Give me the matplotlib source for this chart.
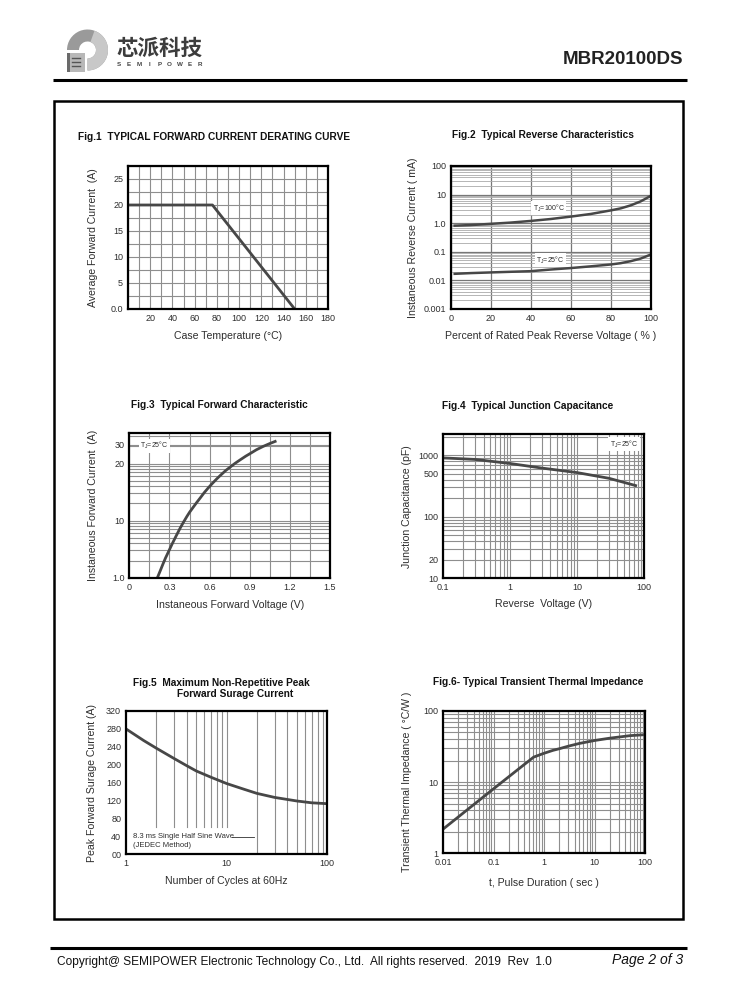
import numpy as np
import matplotlib; matplotlib.use("Agg")
import matplotlib.pyplot as plt
from matplotlib.patches import Rectangle, Wedge
from matplotlib.ticker import MultipleLocator, LogLocator, NullFormatter

plt.rcParams['font.family'] = ['Liberation Sans', 'DejaVu Sans']

W, H = 738, 1000
C_CURVE = "#474747"; C_GRID = "#8e8e8e"; C_TXT = "#2e2e2e"

# Fig.1 derating curve
case_temp = [0, 76, 150]
avg_current = [20, 20, 0]

# Fig.2 reverse characteristics
pct_vr = [2, 10, 20, 30, 40, 50, 60, 70, 80, 85, 90, 95, 100]
ir_100c = [0.82, 0.86, 0.95, 1.05, 1.2, 1.4, 1.7, 2.1, 2.8, 3.3, 4.2, 5.8, 9.0]
ir_25c = [0.017, 0.018, 0.019, 0.020, 0.021, 0.024, 0.027, 0.031, 0.036, 0.040, 0.047, 0.058, 0.08]

# Fig.3 forward characteristic (plotted on the printed log grid; its tick text is misprinted)
vf = [0.21, 0.23, 0.25, 0.27, 0.29, 0.32, 0.35, 0.38, 0.405, 0.43, 0.45, 0.48, 0.505, 0.53,
      0.56, 0.59, 0.617, 0.65, 0.68, 0.72, 0.754, 0.79, 0.83, 0.87, 0.903, 0.95, 1.0, 1.05, 1.09]
if_fwd = [1.0, 1.3, 1.7, 2.2, 2.76, 3.9, 5.4, 7.4, 9.4, 11.8, 14, 17.5, 21, 25,
          31, 37.5, 44, 53, 62, 75.5, 87, 101, 117, 135, 150, 175, 200, 225, 245]
fig3_yticks = [1, 10, 100, 216]
fig3_ylabels = ["1.0", "10", "20", "30"]

# Fig.4 junction capacitance
vr = [0.1, 0.3, 1, 3, 10, 30, 75]
cj = [900, 850, 730, 615, 520, 420, 320]

# Fig.5 surge current
cycles = [1, 1.5, 2, 3, 4, 5, 7, 10, 15, 20, 30, 50, 70, 100]
ifsm = [280, 254, 237, 214, 198, 186, 172, 158, 145, 136, 127, 119, 115, 113]

# Fig.6 transient thermal impedance
tp = [0.01, 0.03, 0.1, 0.3, 0.62, 1, 1.5, 2, 3, 5, 10, 20, 30, 50, 100]
zth = [2.2, 4.1, 8.1, 15, 22.5, 25.5, 28, 29.5, 32, 35, 38.5, 41.5, 43, 45, 46.5]

fig = plt.figure(figsize=(W/100, H/100), dpi=100)
bg = fig.add_axes([0, 0, 1, 1]); bg.set_xlim(0, W); bg.set_ylim(H, 0); bg.axis("off")

def box(x0, y0, x1, y1):
    return fig.add_axes([x0/W, 1-y1/H, (x1-x0)/W, (y1-y0)/H])

def style(ax, xlabel, ylabel, ylx, xly):
    for s in ax.spines.values():
        s.set_linewidth(1.6); s.set_color("black")
    ax.tick_params(which="both", length=0, labelsize=6.5, labelcolor=C_TXT, pad=3.5)
    ax.set_xlabel(xlabel, fontsize=7.6, color=C_TXT, va="center")
    ax.set_ylabel(ylabel, fontsize=7.6, color=C_TXT, va="center")
    ax.yaxis.set_label_coords(ylx, 0.5)
    ax.xaxis.set_label_coords(0.5, xly)
    ax.set_axisbelow(True)

def tj(ax, s, x, y, trans=None):
    ax.text(x, y, s, fontsize=5, color=C_TXT, ha="center", va="center",
            transform=trans or ax.transData,
            bbox=dict(facecolor="white", edgecolor="none", pad=1))

def ttl(x, y, s, ha="center"):
    bg.text(x, y, s, fontsize=7.3, fontweight="bold", ha=ha, va="center", color="#111")

# ---- header / page frame
bg.add_patch(Wedge((87.5, 50), 20.5, 180, 450, width=12, facecolor="#9a9a9a", edgecolor="none"))
bg.add_patch(Wedge((87.5, 50), 20.5, 290, 450, width=12, facecolor="#c8c8c8", edgecolor="none"))
bg.add_patch(Rectangle((67, 53), 18, 19, facecolor="#b8b8b8", edgecolor="none"))
bg.add_patch(Rectangle((67, 53), 3, 19, facecolor="#6a6a6a", edgecolor="none"))
for yy in (58, 62, 66):
    bg.plot([72, 80], [yy, yy], color="#555", lw=1)
bg.text(159, 48, "芯派科技", fontsize=15.5, color="#3c3c3c", ha="center", va="center",
        family=["Noto Sans CJK SC", "DejaVu Sans"], fontweight="bold")
for xx, ch in zip(np.linspace(119, 200, 9), "SEMIPOWER"):
    bg.text(xx, 65, ch, fontsize=4.5, fontweight="bold", color="#444", ha="center", va="center")
bg.text(683, 60, "MBR20100DS", fontsize=13.5, fontweight="bold", ha="right", va="center", color="#222")
bg.plot([53, 687], [80, 80], color="black", lw=2.2, solid_capstyle="butt")
bg.add_patch(Rectangle((53.5, 101), 629, 818, fill=False, edgecolor="black", lw=1.8))
bg.plot([50, 687], [947.5, 947.5], color="black", lw=2.2, solid_capstyle="butt")
bg.text(57, 962, "Copyright@ SEMIPOWER Electronic Technology Co., Ltd.  All rights reserved.  2019  Rev  1.0",
        fontsize=8.6, ha="left", va="center", color="#111")
bg.text(683, 960, "Page 2 of 3", fontsize=10, style="italic", ha="right", va="center", color="#111")

# ---- Fig.1
ttl(78, 137, "Fig.1  TYPICAL FORWARD CURRENT DERATING CURVE", ha="left")
ax1 = box(128, 166, 328, 309)
ax1.plot(case_temp, avg_current, color=C_CURVE, lw=2)
ax1.set_xlim(0, 180); ax1.set_ylim(0, 27.5)
ax1.set_xticks(range(20, 181, 20))
ax1.set_yticks([0, 5, 10, 15, 20, 25], ["0.0", "5", "10", "15", "20", "25"])
ax1.xaxis.set_minor_locator(MultipleLocator(10)); ax1.yaxis.set_minor_locator(MultipleLocator(2.5))
ax1.grid(which="both", color=C_GRID, lw=0.8)
style(ax1, "Case Temperature (°C)", "Average Forward Current  (A)", -0.175, -0.19)

# ---- Fig.2
ttl(543, 135, "Fig.2  Typical Reverse Characteristics")
ax2 = box(450.7, 166, 650.7, 309)
ax2.plot(pct_vr, ir_100c, color=C_CURVE, lw=1.8)
ax2.plot(pct_vr, ir_25c, color=C_CURVE, lw=1.8)
ax2.set_yscale("log"); ax2.set_xlim(0, 100); ax2.set_ylim(0.001, 100)
ax2.set_xticks(range(0, 101, 20))
ax2.set_yticks([0.001, 0.01, 0.1, 1, 10, 100], ["0.001", "0.01", "0.1", "1.0", "10", "100"])
ax2.yaxis.set_minor_locator(LogLocator(subs=np.arange(2, 10))); ax2.yaxis.set_minor_formatter(NullFormatter())
ax2.grid(which="major", color="#777", lw=0.9)
ax2.grid(which="minor", axis="y", color="#aaa", lw=0.6)
tj(ax2, r"T$_\mathregular{J}$=100°C", 49, 3.3)
tj(ax2, r"T$_\mathregular{J}$=25°C", 50, 0.05)
style(ax2, "Percent of Rated Peak Reverse Voltage ( % )", "Instaneous Reverse Current ( mA)", -0.19, -0.19)

# ---- Fig.3
ttl(219, 405, "Fig.3  Typical Forward Characteristic")
ax3 = box(129.3, 433.3, 330, 577.7)
ax3.plot(vf, if_fwd, color=C_CURVE, lw=2)
ax3.set_yscale("log"); ax3.set_xlim(0, 1.5); ax3.set_ylim(1, 340)
ax3.set_xticks([0, 0.3, 0.6, 0.9, 1.2, 1.5], ["0", "0.3", "0.6", "0.9", "1.2", "1.5"])
ax3.xaxis.set_minor_locator(MultipleLocator(0.15))
ax3.set_yticks(fig3_yticks, fig3_ylabels)
ax3.yaxis.set_minor_locator(LogLocator(subs=np.arange(2, 10))); ax3.yaxis.set_minor_formatter(NullFormatter())
ax3.grid(which="both", color=C_GRID, lw=0.8)
tj(ax3, r"T$_\mathregular{J}$=25°C", 0.125, 0.914, ax3.transAxes)
style(ax3, "Instaneous Forward Voltage (V)", "Instaneous Forward Current  (A)", -0.18, -0.19)

# ---- Fig.4
ttl(528, 406, "Fig.4  Typical Junction Capacitance")
ax4 = box(443.3, 434, 644, 578.3)
ax4.plot(vr, cj, color=C_CURVE, lw=2)
ax4.set_xscale("log"); ax4.set_yscale("log")
ax4.set_xlim(0.1, 100); ax4.set_ylim(10, 2200)
ax4.set_xticks([0.1, 1, 10, 100], ["0.1", "1", "10", "100"])
ax4.set_yticks([10, 20, 100, 500, 1000], ["10", "20", "100", "500", "1000"])
for a in (ax4.xaxis, ax4.yaxis):
    a.set_minor_locator(LogLocator(subs=np.arange(2, 10))); a.set_minor_formatter(NullFormatter())
ax4.grid(which="both", color=C_GRID, lw=0.8)
tj(ax4, r"T$_\mathregular{J}$=25°C", 0.90, 0.93, ax4.transAxes)
style(ax4, "Reverse  Voltage (V)", "Junction Capacitance (pF)", -0.18, -0.18)

# ---- Fig.5
ttl(221, 683, "Fig.5  Maximum Non-Repetitive Peak")
ttl(235, 694, "Forward Surage Current")
ax5 = box(126, 711, 327.3, 854.3)
ax5.plot(cycles, ifsm, color=C_CURVE, lw=2)
ax5.set_xscale("log"); ax5.set_xlim(1, 100); ax5.set_ylim(0, 320)
ax5.set_xticks([1, 10, 100], ["1", "10", "100"])
ax5.xaxis.set_minor_formatter(NullFormatter())
ax5.set_yticks(range(0, 321, 40), ["00"] + [str(v) for v in range(40, 321, 40)])
for k in range(2, 11):
    ax5.axvline(k, ymin=62/320, color=C_GRID, lw=0.8, zorder=0)
for k in range(20, 100, 10):
    ax5.axvline(k, color=C_GRID, lw=0.8, zorder=0)
ax5.text(1.17, 39, "8.3 ms Single Half Sine Wave", fontsize=5.5, color=C_TXT, va="center")
ax5.text(1.17, 19, "(JEDEC Method)", fontsize=5.5, color=C_TXT, va="center")
ax5.plot([11.3, 18.5], [39, 39], color=C_TXT, lw=0.6)
style(ax5, "Number of Cycles at 60Hz", "Peak Forward Surage Current (A)", -0.17, -0.186)

# ---- Fig.6
ttl(538, 682, "Fig.6- Typical Transient Thermal Impedance")
ax6 = box(443.3, 711, 645, 853.3)
ax6.plot(tp, zth, color=C_CURVE, lw=2)
ax6.set_xscale("log"); ax6.set_yscale("log")
ax6.set_xlim(0.01, 100); ax6.set_ylim(1, 100)
ax6.set_xticks([0.01, 0.1, 1, 10, 100], ["0.01", "0.1", "1", "10", "100"])
ax6.set_yticks([1, 10, 100], ["1", "10", "100"])
for a in (ax6.xaxis, ax6.yaxis):
    a.set_minor_locator(LogLocator(subs=np.arange(2, 10))); a.set_minor_formatter(NullFormatter())
ax6.grid(which="both", color=C_GRID, lw=0.8)
style(ax6, "t, Pulse Duration ( sec )", "Transient Thermal Impedance ( °C/W )", -0.18, -0.21)

fig.savefig("out.png", dpi=100)
